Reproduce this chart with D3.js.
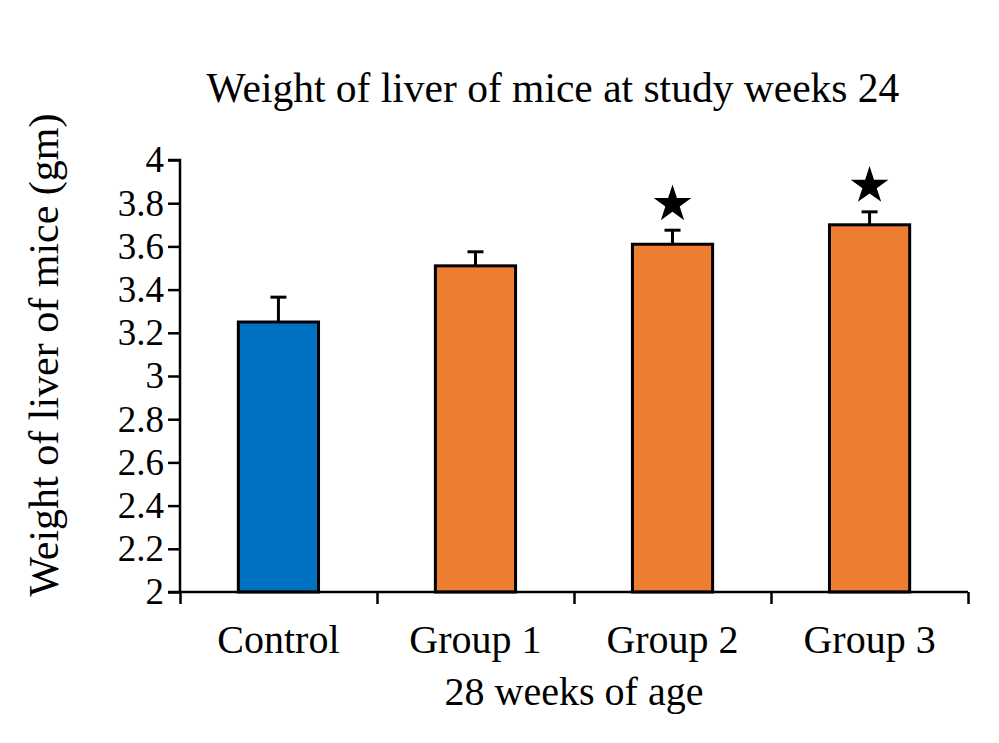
<!DOCTYPE html>
<html>
<head>
<meta charset="utf-8">
<script src="https://cdn.jsdelivr.net/npm/d3@7"></script>
<style>
  body { margin: 0; background: #fff; }
  text { font-family: "Liberation Serif", "Times New Roman", serif; fill: #000; }
</style>
</head>
<body>
<div id="chart"></div>
<script>
// data
const groups = ["Control", "Group 1", "Group 2", "Group 3"];
const means = [3.25, 3.51, 3.61, 3.70];
const errors = [0.115, 0.065, 0.065, 0.06];
const significant = [false, false, true, true];
const barColors = ["#0070C0", "#ED7D31", "#ED7D31", "#ED7D31"];
const yTicks = [2, 2.2, 2.4, 2.6, 2.8, 3, 3.2, 3.4, 3.6, 3.8, 4];

const W = 999, H = 743;
const margin = { top: 160, right: 31, bottom: 151, left: 180 },
      width = W - margin.left - margin.right,
      height = H - margin.top - margin.bottom;

const svg = d3.select("#chart").append("svg")
    .attr("width", W)
    .attr("height", H);

const g = svg.append("g")
    .attr("transform", `translate(${margin.left},${margin.top})`);

const x = d3.scaleBand().domain(groups).range([0, width]).paddingInner(0.593).paddingOuter(0.296);
const xAxisScale = d3.scaleLinear().domain([0, groups.length]).range([0, width]);
const y = d3.scaleLinear().domain([2, 4]).range([height, 0]);

// title
svg.append("text")
   .attr("x", 553)
   .attr("y", 102)
   .attr("text-anchor", "middle")
   .style("font-size", "41.5px")
   .text("Weight of liver of mice at study weeks 24");

// bars
const data = groups.map((d, i) => ({ name: d, mean: means[i], err: errors[i], sig: significant[i], color: barColors[i] }));

g.selectAll(".bar")
 .data(data)
 .join("rect")
 .attr("class", "bar")
 .attr("x", d => x(d.name))
 .attr("width", x.bandwidth())
 .attr("y", d => y(d.mean))
 .attr("height", d => y(2) - y(d.mean))
 .attr("fill", d => d.color)
 .attr("stroke", "#000")
 .attr("stroke-width", 3);

// error bars (upper only)
const eb = g.selectAll(".err").data(data).join("g").attr("class", "err");
eb.append("line")
  .attr("x1", d => x(d.name) + x.bandwidth() / 2)
  .attr("x2", d => x(d.name) + x.bandwidth() / 2)
  .attr("y1", d => y(d.mean))
  .attr("y2", d => y(d.mean + d.err))
  .attr("stroke", "#000").attr("stroke-width", 3);
eb.append("line")
  .attr("x1", d => x(d.name) + x.bandwidth() / 2 - 8)
  .attr("x2", d => x(d.name) + x.bandwidth() / 2 + 8)
  .attr("y1", d => y(d.mean + d.err))
  .attr("y2", d => y(d.mean + d.err))
  .attr("stroke", "#000").attr("stroke-width", 3);

// significance stars
g.selectAll(".star")
 .data(data.filter(d => d.sig))
 .join("path")
 .attr("class", "star")
 .attr("d", d3.symbol(d3.symbolStar).size(440))
 .attr("transform", d => `translate(${x(d.name) + x.bandwidth() / 2},${y(d.mean + d.err) - 26})`)
 .attr("fill", "#000");

// y axis
const yAxis = g.append("g")
    .call(d3.axisLeft(y).tickValues(yTicks).tickFormat(d3.format("")).tickSize(12).tickPadding(4));
yAxis.select(".domain").attr("stroke-width", 2.5).attr("d", `M-12,0H0V${height}H-12`);
yAxis.selectAll(".tick line").attr("stroke-width", 2.5);
yAxis.selectAll("text").style("font-size", "37px").style("font-family", "Liberation Serif, serif");

// x axis with ticks at band boundaries
const xAxis = g.append("g")
    .attr("transform", `translate(0,${height})`)
    .call(d3.axisBottom(xAxisScale).ticks(groups.length).tickSize(12).tickFormat(""));
xAxis.select(".domain").attr("stroke-width", 2.5).attr("d", `M0,0H${width}`);
xAxis.selectAll(".tick line").attr("stroke-width", 2.5);

// category labels
g.selectAll(".cat")
 .data(groups)
 .join("text")
 .attr("class", "cat")
 .attr("x", d => x(d) + x.bandwidth() / 2)
 .attr("y", height + 61)
 .attr("text-anchor", "middle")
 .style("font-size", "40px")
 .text(d => d);

// axis titles
svg.append("text")
   .attr("x", 574)
   .attr("y", 705)
   .attr("text-anchor", "middle")
   .style("font-size", "40px")
   .text("28 weeks of age");

svg.append("text")
   .attr("transform", "translate(58,355) rotate(-90)")
   .attr("text-anchor", "middle")
   .style("font-size", "42px")
   .text("Weight of liver of mice (gm)");
</script>
</body>
</html>
